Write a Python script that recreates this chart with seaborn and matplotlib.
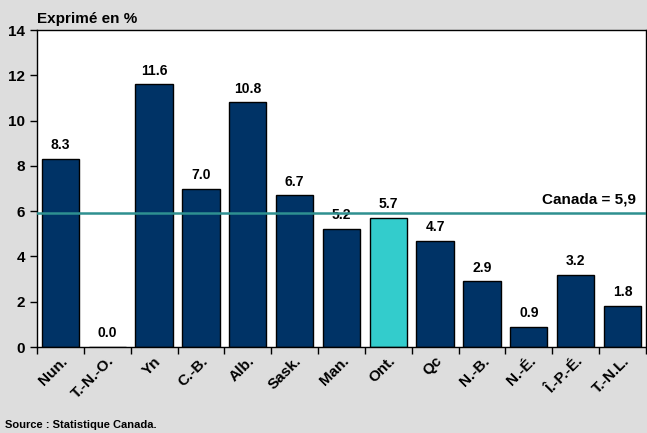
import numpy as np
import pandas as pd
import matplotlib.pyplot as plt
import seaborn as sns

# Data
provinces = ['Nun.', 'T.-N.-O.', 'Yn', 'C.-B.', 'Alb.', 'Sask.', 'Man.', 'Ont.',
             'Qc', 'N.-B.', 'N.-É.', 'Î.-P.-É.', 'T.-N.L.']
rates = [8.3, 0.0, 11.6, 7.0, 10.8, 6.7, 5.2, 5.7, 4.7, 2.9, 0.9, 3.2, 1.8]
canada = 5.9

sns.set_style('white')
plt.rcParams['font.family'] = ['Liberation Sans', 'DejaVu Sans']
plt.rcParams['font.weight'] = 'bold'
plt.rcParams['text.color'] = 'black'
plt.rcParams['xtick.color'] = 'black'
plt.rcParams['ytick.color'] = 'black'

df = pd.DataFrame({'prov': provinces, 'rate': rates})
df['grp'] = np.where(df['prov'] == 'Ont.', 'ont', 'other')

fig = plt.figure(figsize=(6.47, 4.33), dpi=100, facecolor='#DDDDDD')
ax = fig.add_axes([0.0572, 0.1986, 0.941, 0.732])
ax.set_facecolor('white')

sns.barplot(data=df, x='prov', y='rate', hue='grp', order=provinces,
            palette={'other': '#003366', 'ont': '#33CCCC'}, dodge=False,
            saturation=1, width=0.8, edgecolor='black', linewidth=1,
            legend=False, ax=ax)

for i, v in enumerate(rates):
    ax.text(i, v + 0.3, f'{v:.1f}', ha='center', va='bottom',
            fontsize=10, fontweight='bold')

ax.axhline(canada, color='#2E9090', lw=1.8, zorder=3)
ax.text(12.3, canada + 0.3, 'Canada = 5,9', ha='right', va='bottom',
        fontsize=11, fontweight='bold')

ax.set_xlim(-0.5, len(provinces) - 0.5)
ax.set_ylim(0, 14)
ax.set_yticks(range(0, 15, 2))
ax.set_xticks(np.arange(-0.5, len(provinces), 1))
ax.set_xticklabels([])
ax.set_xticks(range(len(provinces)), minor=True)
ax.set_xticklabels(provinces, minor=True, rotation=45, ha='right',
                   rotation_mode='anchor', fontsize=11, fontweight='bold')
ax.tick_params(axis='x', which='major', direction='out', length=5, width=1,
               color='black', bottom=True)
ax.tick_params(axis='x', which='minor', length=0, pad=5, labelcolor='black')
ax.tick_params(axis='y', direction='out', length=5, width=1, color='black',
               left=True, labelsize=11, labelcolor='black')
for lab in ax.get_yticklabels():
    lab.set_fontweight('bold')
ax.set_xlabel('')
ax.set_ylabel('')
for s in ax.spines.values():
    s.set_color('black')
    s.set_linewidth(1)

fig.text(0.057, 0.94, 'Exprimé en %', fontsize=11, fontweight='bold',
         ha='left', va='bottom')
fig.text(0.008, 0.008, 'Source : Statistique Canada.', fontsize=8,
         fontweight='bold', ha='left', va='bottom')

fig.savefig('out.png', dpi=100, facecolor=fig.get_facecolor())
